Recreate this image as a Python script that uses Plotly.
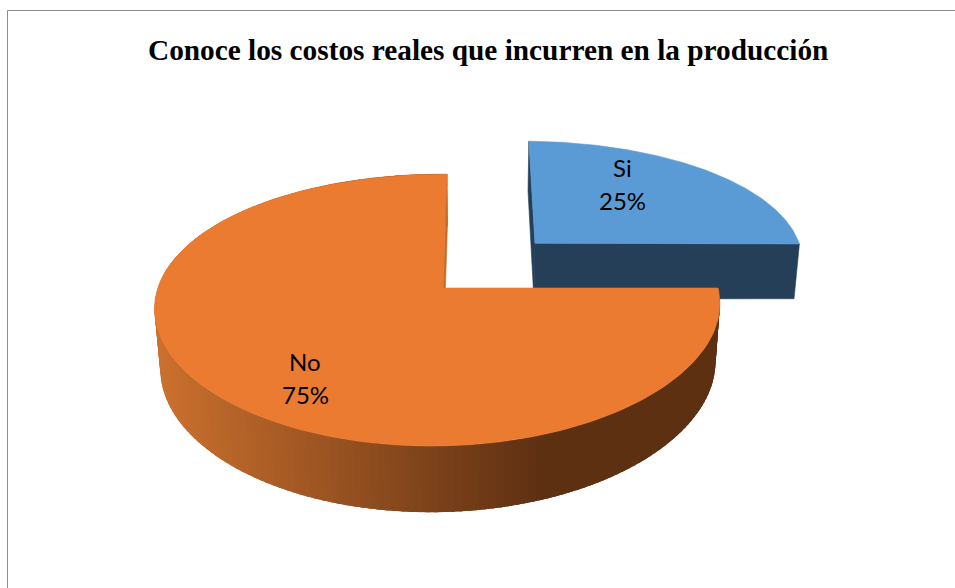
import numpy as np
import plotly.graph_objects as go

# Chart content
TITLE = "Conoce los costos reales que incurren en la producción"
categories = ["Si", "No"]
shares = [25, 75]

# Colours
TOP_COLORS = {"Si": "#5B9BD5", "No": "#EA7B30"}
SI_WALL = "#243F57"
NO_WALL = "#C46C2C"
SIDE_LIGHT = np.array([203, 112, 46])
SIDE_DARK = np.array([94, 48, 18])

# Pinhole-style camera for the tilted disc (unit radius, z = 0 on the top face)
PRINCIPAL_X = 472.0
APEX_Y = 288.0
X_OFFSET = -29.0
X_SCALE = 279.5
Y_SCALE = 132.4
Z_SCALE = 59.5      # vertical screen drop of the lower face
SKEW = 8.0          # slight horizontal skew of the disc plane
DEPTH_Y = 0.162     # perspective strength along the disc's y axis
DEPTH_X = 0.018     # perspective strength along the disc's x axis
DEPTH_Z = 0.018     # lower face sits slightly further from the camera
EXPLODE = {"Si": (0.34, 0.36), "No": (0.0, 0.0)}
RADIUS_X = {"Si": 1.018, "No": 1.0}


def project(px, py, lower=False):
    px, py = np.asarray(px, float), np.asarray(py, float)
    w = 1 + DEPTH_Y * py + DEPTH_X * px + (DEPTH_Z if lower else 0.0)
    drop = Z_SCALE if lower else 0.0
    return (PRINCIPAL_X + (X_OFFSET + X_SCALE * px + SKEW * px * py) / w,
            APEX_Y - (Y_SCALE * py - drop) / w)


def rim(start, end, offset, stretch=1.0, n=2):
    theta = np.linspace(start, end, n)
    return offset[0] + stretch * np.sin(theta), offset[1] + np.cos(theta)


def polygon(fig, xs, ys, color, edge=0.6):
    fig.add_trace(go.Scatter(x=list(xs), y=list(ys), mode="lines", fill="toself",
                             fillcolor=color, line=dict(color=color, width=edge),
                             hoverinfo="skip", showlegend=False))


def closed_wedge(start, end, offset, stretch=1.0):
    rx, ry = rim(start, end, offset, stretch, 180)
    px = np.r_[offset[0], rx, offset[0]]
    py = np.r_[offset[1], ry, offset[1]]
    return project(px, py)


def radial_wall(angle, offset, stretch=1.0):
    ex, ey = rim(angle, angle, offset, stretch, 1)
    px = np.array([offset[0], ex[0]])
    py = np.array([offset[1], ey[0]])
    tx, ty = project(px, py)
    bx, by = project(px, py, True)
    return np.r_[tx, bx[::-1], tx[0]], np.r_[ty, by[::-1], ty[0]]


# Slice angles, clockwise from twelve o'clock
fractions = np.array(shares) / sum(shares)
edges = np.r_[0, np.cumsum(fractions)] * 2 * np.pi
angles = {c: (edges[i], edges[i + 1]) for i, c in enumerate(categories)}

fig = go.Figure()

# "Si": flat-shaded radial walls, then its top face
a0, a1 = angles["Si"]
off = EXPLODE["Si"]
stretch = RADIUS_X["Si"]
for ang in (a0, a1):
    polygon(fig, *radial_wall(ang, off, stretch), SI_WALL)
polygon(fig, *closed_wedge(a0, a1, off, stretch), TOP_COLORS["Si"])

# "No": curved side shaded by screen position, overlapping strips hide the seams
a0, a1 = angles["No"]
off = EXPLODE["No"]
thetas = np.linspace(a0, a1, 181)
step = thetas[1] - thetas[0]
GRAD_LEFT, GRAD_RIGHT = 160.0, 545.0
for t0 in thetas[:-1]:
    t1 = min(t0 + 2.5 * step, a1)
    rx, ry = rim(t0, t1, off)
    tx, ty = project(rx, ry)
    bx, by = project(rx, ry, True)
    mix = np.clip((tx[0] - GRAD_LEFT) / (GRAD_RIGHT - GRAD_LEFT), 0, 1)
    rgb = (SIDE_LIGHT + (SIDE_DARK - SIDE_LIGHT) * mix).round().astype(int)
    polygon(fig, np.r_[tx, bx[::-1], tx[0]], np.r_[ty, by[::-1], ty[0]],
            f"rgb({rgb[0]},{rgb[1]},{rgb[2]})", edge=0)
polygon(fig, *radial_wall(a1, off), NO_WALL)
polygon(fig, *closed_wedge(a0, a1, off), TOP_COLORS["No"])

# Two-line data labels
label_pos = {"Si": (622, 167, 200), "No": (305, 361, 394)}
annotations = []
for cat, share in zip(categories, shares):
    x, y1, y2 = label_pos[cat]
    for y, text in ((y1, cat), (y2, f"{share}%")):
        annotations.append(dict(x=x, y=y, xref="x", yref="y", text=text, showarrow=False,
                                xanchor="center", yanchor="middle",
                                font=dict(family="Lato", size=24, color="#000000")))
annotations.append(dict(x=487.5, y=49.5, xref="x", yref="y", text=f"<b>{TITLE}</b>", showarrow=False,
                        xanchor="center", yanchor="middle",
                        font=dict(family="Liberation Serif", size=29.3, color="#000000")))

fig.update_layout(
    width=955, height=588, margin=dict(l=0, r=0, t=0, b=0),
    paper_bgcolor="white", plot_bgcolor="white", showlegend=False,
    xaxis=dict(range=[0, 955], visible=False, fixedrange=True),
    yaxis=dict(range=[588, 0], visible=False, fixedrange=True),
    annotations=annotations,
    shapes=[dict(type="rect", xref="x", yref="y", x0=7.5, y0=10.5, x1=1000, y1=640,
                 line=dict(color="#8C8C8C", width=1), fillcolor="rgba(0,0,0,0)", layer="below")],
)
fig.write_html("out.html", config=dict(displayModeBar=False))
